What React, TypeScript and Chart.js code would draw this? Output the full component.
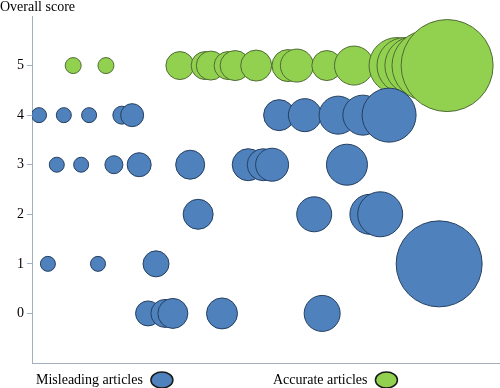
import React, { useEffect, useRef } from "react";
import { Chart, registerables } from "chart.js";

Chart.register(...registerables);

const yTitle = "Overall score";
const yTickValues = [0, 1, 2, 3, 4, 5];
const seriesLabels = ["Misleading articles", "Accurate articles"];

// Misleading articles: x position (arbitrary units 0-100), score, bubble radius
const misleadingX = [1.5, 6.8, 12.2, 19.2, 21.4, 52.8, 58.3, 65.4, 70.7, 76.3,
  5.3, 10.5, 17.5, 22.9, 33.8, 46.2, 49.4, 51.3, 67.3,
  35.5, 60.3, 72.2, 74.4,
  3.4, 14.1, 26.5, 87.0,
  24.8, 28.4, 30.1, 40.6, 62.0];
const misleadingScore = [4, 4, 4, 4, 4, 4, 4, 4, 4, 4,
  3, 3, 3, 3, 3, 3, 3, 3, 3,
  2, 2, 2, 2,
  1, 1, 1, 1,
  0, 0, 0, 0, 0];
const misleadingSize = [7.5, 7.5, 7.5, 9, 11.5, 15.5, 16.5, 19, 20, 27,
  7.5, 7.5, 9, 12, 14.5, 16, 16, 16.5, 20.5,
  15, 17.5, 20, 22.5,
  7.5, 7.5, 13, 43,
  12.5, 14, 15, 15.5, 18];

// Accurate articles
const accurateX = [8.8, 15.8, 31.6, 37.0, 38.2, 41.9, 43.4, 47.9, 54.7, 56.6, 63.0, 68.8, 78.0, 79.7, 81.6, 84.4, 88.7];
const accurateScore = [5, 5, 5, 5, 5, 5, 5, 5, 5, 5, 5, 5, 5, 5, 5, 5, 5];
const accurateSize = [8, 8, 14, 14, 14.5, 14, 15, 15.5, 16, 16.5, 15, 19.5, 28, 28, 29, 35, 46];

const blueFill = "#4f81bd";
const blueBorder = "#243f60";
const greenFill = "#92d050";
const greenBorder = "#4f6b34";
const axisColor = "#a3b0bf";
const FONT = "'Liberation Serif', 'Times New Roman', serif";

function toPoints(xs: number[], ys: number[], rs: number[]) {
  return xs.map((x, i) => ({ x, y: ys[i], r: rs[i] }));
}

const overlayPlugin = {
  id: "overlay",
  afterDraw(chart: any) {
    const ctx = chart.ctx;
    ctx.save();
    ctx.font = `14px ${FONT}`;
    ctx.fillStyle = "#000";
    ctx.textBaseline = "middle";
    ctx.textAlign = "left";
    ctx.fillText(yTitle, 0, 7);

    const ds = chart.data.datasets;
    const starts = [36, 273];
    ds.forEach((d: any, i: number) => {
      const x0 = starts[i];
      const y0 = 380;
      ctx.fillStyle = "#000";
      ctx.fillText(d.label, x0, y0);
      const w = ctx.measureText(d.label).width;
      const cx = x0 + w + 19;
      ctx.beginPath();
      ctx.ellipse(cx, y0, 11, 8, 0, 0, Math.PI * 2);
      ctx.fillStyle = d.backgroundColor;
      ctx.fill();
      ctx.lineWidth = 1.5;
      ctx.strokeStyle = "#1a1a1a";
      ctx.stroke();
    });
    ctx.restore();
  },
};

export default function App() {
  const ref = useRef<HTMLCanvasElement | null>(null);
  useEffect(() => {
    if (!ref.current) return;
    const chart = new Chart(ref.current, {
      type: "bubble",
      data: {
        datasets: [
          {
            label: seriesLabels[0],
            data: toPoints(misleadingX, misleadingScore, misleadingSize),
            backgroundColor: blueFill,
            borderColor: blueBorder,
            borderWidth: 1,
          },
          {
            label: seriesLabels[1],
            data: toPoints(accurateX, accurateScore, accurateSize),
            backgroundColor: greenFill,
            borderColor: greenBorder,
            borderWidth: 1,
          },
        ],
      },
      options: {
        responsive: false,
        animation: false,
        events: [],
        layout: { autoPadding: false, padding: { top: 16, left: 0, right: 0, bottom: 0 } },
        plugins: { legend: { display: false }, tooltip: { enabled: false } },
        scales: {
          x: {
            type: "linear",
            min: 0,
            max: 100,
            ticks: { display: false },
            grid: { display: false, drawTicks: false },
            border: { display: true, color: axisColor, width: 1 },
            afterFit: (s: any) => { s.height = 25; },
          },
          y: {
            type: "linear",
            min: -1,
            max: 6,
            afterBuildTicks: (s: any) => { s.ticks = yTickValues.map((v) => ({ value: v })); },
            ticks: { color: "#000", font: { family: FONT, size: 14 }, padding: 3 },
            grid: { display: true, drawOnChartArea: false, drawTicks: true, tickLength: 5, color: axisColor },
            border: { display: true, color: axisColor, width: 1 },
            afterFit: (s: any) => { s.width = 32; },
          },
        },
      },
      plugins: [overlayPlugin],
    });
    return () => chart.destroy();
  }, []);
  return (
    <div style={{ position: "absolute", left: 0, top: 0, width: 500, height: 388, background: "#fff" }}>
      <canvas ref={ref} width={500} height={388} />
    </div>
  );
}
